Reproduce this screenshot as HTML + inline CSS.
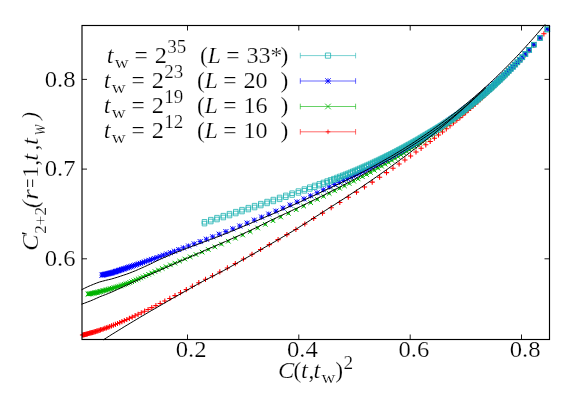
<!DOCTYPE html>
<html><head><meta charset="utf-8"><title>chart</title>
<style>
html,body{margin:0;padding:0;background:#fff;}
body{width:581px;height:407px;overflow:hidden;position:relative;font-family:"Liberation Serif",serif;}
</style></head><body>
<svg width="581" height="407" viewBox="0 0 581 407" style="position:absolute;left:0;top:0;display:block">
<rect x="0" y="0" width="581" height="407" fill="#ffffff"/>
<path d="M79.9,335.0h5.2M82.5,332.4v5.2M80.8,334.8h5.2M83.4,332.2v5.2M81.8,334.6h5.2M84.4,332.0v5.2M82.8,334.3h5.2M85.4,331.7v5.2M83.9,334.1h5.2M86.5,331.5v5.2M84.9,333.8h5.2M87.5,331.2v5.2M86.0,333.5h5.2M88.6,330.9v5.2M87.1,333.2h5.2M89.7,330.6v5.2M88.2,332.9h5.2M90.8,330.3v5.2M89.3,332.6h5.2M91.9,330.0v5.2M90.4,332.3h5.2M93.0,329.7v5.2M91.6,331.9h5.2M94.2,329.3v5.2M92.8,331.6h5.2M95.4,329.0v5.2M94.1,331.2h5.2M96.7,328.6v5.2M95.3,330.8h5.2M97.9,328.2v5.2M96.6,330.4h5.2M99.2,327.8v5.2M97.9,329.9h5.2M100.5,327.3v5.2M99.3,329.5h5.2M101.9,326.9v5.2M100.7,329.0h5.2M103.3,326.4v5.2M102.2,328.4h5.2M104.8,325.8v5.2M103.8,327.9h5.2M106.4,325.3v5.2M105.4,327.3h5.2M108.0,324.7v5.2M107.1,326.6h5.2M109.7,324.0v5.2M108.9,325.9h5.2M111.5,323.3v5.2M110.8,325.2h5.2M113.4,322.6v5.2M112.8,324.4h5.2M115.4,321.8v5.2M114.9,323.5h5.2M117.5,320.9v5.2M117.1,322.6h5.2M119.7,320.0v5.2M119.3,321.6h5.2M121.9,319.0v5.2M121.7,320.6h5.2M124.3,318.0v5.2M124.2,319.5h5.2M126.8,316.9v5.2M126.8,318.3h5.2M129.4,315.7v5.2M129.6,317.1h5.2M132.2,314.5v5.2M132.5,315.7h5.2M135.1,313.1v5.2M135.5,314.3h5.2M138.1,311.7v5.2M138.7,312.8h5.2M141.3,310.2v5.2M142.0,311.2h5.2M144.6,308.6v5.2M145.5,309.5h5.2M148.1,306.9v5.2M149.2,307.6h5.2M151.8,305.0v5.2M153.3,305.6h5.2M155.9,303.0v5.2M157.6,303.4h5.2M160.2,300.8v5.2M162.2,301.0h5.2M164.8,298.4v5.2M167.2,298.4h5.2M169.8,295.8v5.2M172.4,295.6h5.2M175.0,293.0v5.2M177.9,292.7h5.2M180.5,290.1v5.2M183.7,289.6h5.2M186.3,287.0v5.2M189.8,286.2h5.2M192.4,283.6v5.2M196.2,282.7h5.2M198.8,280.1v5.2M202.9,279.3h5.2M205.5,276.7v5.2M209.9,275.7h5.2M212.5,273.1v5.2M217.2,271.9h5.2M219.8,269.3v5.2M224.8,267.9h5.2M227.4,265.3v5.2M232.7,263.6h5.2M235.3,261.0v5.2M240.9,259.0h5.2M243.5,256.4v5.2M249.4,254.3h5.2M252.0,251.7v5.2M258.0,249.5h5.2M260.6,246.9v5.2M266.7,244.6h5.2M269.3,242.0v5.2M275.5,239.6h5.2M278.1,237.0v5.2M284.3,234.6h5.2M286.9,232.0v5.2M293.3,229.4h5.2M295.9,226.8v5.2M302.2,224.0h5.2M304.8,221.4v5.2M311.1,218.5h5.2M313.7,215.9v5.2M319.9,213.1h5.2M322.5,210.5v5.2M328.6,207.7h5.2M331.2,205.1v5.2M337.2,202.5h5.2M339.8,199.9v5.2M345.7,197.2h5.2M348.3,194.6v5.2M353.9,192.1h5.2M356.5,189.5v5.2M361.9,187.0h5.2M364.5,184.4v5.2M369.6,182.1h5.2M372.2,179.5v5.2M377.0,177.2h5.2M379.6,174.6v5.2M383.9,172.6h5.2M386.5,170.0v5.2M390.4,168.2h5.2M393.0,165.6v5.2M396.5,164.0h5.2M399.1,161.4v5.2M402.3,159.9h5.2M404.9,157.3v5.2M408.0,155.9h5.2M410.6,153.3v5.2M413.4,152.0h5.2M416.0,149.4v5.2M418.5,148.3h5.2M421.1,145.7v5.2M423.2,144.8h5.2M425.8,142.2v5.2M427.6,141.4h5.2M430.2,138.8v5.2M431.8,138.2h5.2M434.4,135.6v5.2M435.9,135.0h5.2M438.5,132.4v5.2M439.9,131.9h5.2M442.5,129.3v5.2M443.7,128.8h5.2M446.3,126.2v5.2M447.4,125.8h5.2M450.0,123.2v5.2M450.9,122.9h5.2M453.5,120.3v5.2M454.2,120.2h5.2M456.8,117.6v5.2M457.3,117.6h5.2M459.9,115.0v5.2M460.2,115.1h5.2M462.8,112.5v5.2M463.0,112.7h5.2M465.6,110.1v5.2M465.6,110.5h5.2M468.2,107.9v5.2M468.1,108.3h5.2M470.7,105.7v5.2M470.5,106.1h5.2M473.1,103.5v5.2M472.9,104.0h5.2M475.5,101.4v5.2M475.3,101.8h5.2M477.9,99.2v5.2M477.6,99.7h5.2M480.2,97.1v5.2M479.9,97.6h5.2M482.5,95.0v5.2M482.2,95.5h5.2M484.8,92.9v5.2M484.4,93.5h5.2M487.0,90.9v5.2M486.6,91.4h5.2M489.2,88.8v5.2M488.7,89.4h5.2M491.3,86.8v5.2M490.8,87.4h5.2M493.4,84.8v5.2M492.9,85.4h5.2M495.5,82.8v5.2M494.9,83.4h5.2M497.5,80.8v5.2M497.0,81.4h5.2M499.6,78.8v5.2M499.0,79.4h5.2M501.6,76.8v5.2M501.1,77.4h5.2M503.7,74.8v5.2M503.2,75.2h5.2M505.8,72.6v5.2M505.4,73.0h5.2M508.0,70.4v5.2M507.6,70.7h5.2M510.2,68.1v5.2M509.9,68.4h5.2M512.5,65.8v5.2M512.2,66.0h5.2M514.8,63.4v5.2M514.6,63.5h5.2M517.2,60.9v5.2M517.1,60.9h5.2M519.7,58.3v5.2M519.6,58.2h5.2M522.2,55.6v5.2M522.7,54.9h5.2M525.3,52.3v5.2M526.5,50.7h5.2M529.1,48.1v5.2M531.2,45.4h5.2M533.8,42.8v5.2M537.3,38.4h5.2M539.9,35.8v5.2M541.3,33.8h5.2M543.9,31.2v5.2" fill="none" stroke="#ff0000" stroke-width="1.05"/>
<path d="M85.7,291.8l4.6,4.6M85.7,296.4l4.6,-4.6M86.5,291.7l4.6,4.6M86.5,296.3l4.6,-4.6M87.3,291.5l4.6,4.6M87.3,296.1l4.6,-4.6M88.1,291.4l4.6,4.6M88.1,296.0l4.6,-4.6M88.9,291.3l4.6,4.6M88.9,295.9l4.6,-4.6M89.8,291.1l4.6,4.6M89.8,295.7l4.6,-4.6M90.6,290.9l4.6,4.6M90.6,295.5l4.6,-4.6M91.5,290.8l4.6,4.6M91.5,295.4l4.6,-4.6M92.4,290.6l4.6,4.6M92.4,295.2l4.6,-4.6M93.3,290.4l4.6,4.6M93.3,295.0l4.6,-4.6M94.3,290.2l4.6,4.6M94.3,294.8l4.6,-4.6M95.2,290.0l4.6,4.6M95.2,294.6l4.6,-4.6M96.2,289.7l4.6,4.6M96.2,294.3l4.6,-4.6M97.2,289.5l4.6,4.6M97.2,294.1l4.6,-4.6M98.2,289.2l4.6,4.6M98.2,293.8l4.6,-4.6M99.3,288.9l4.6,4.6M99.3,293.5l4.6,-4.6M100.4,288.6l4.6,4.6M100.4,293.2l4.6,-4.6M101.5,288.3l4.6,4.6M101.5,292.9l4.6,-4.6M102.6,288.0l4.6,4.6M102.6,292.6l4.6,-4.6M103.8,287.7l4.6,4.6M103.8,292.3l4.6,-4.6M104.9,287.4l4.6,4.6M104.9,292.0l4.6,-4.6M106.2,287.1l4.6,4.6M106.2,291.7l4.6,-4.6M107.4,286.7l4.6,4.6M107.4,291.3l4.6,-4.6M108.7,286.4l4.6,4.6M108.7,291.0l4.6,-4.6M110.0,286.0l4.6,4.6M110.0,290.6l4.6,-4.6M111.4,285.6l4.6,4.6M111.4,290.2l4.6,-4.6M112.8,285.2l4.6,4.6M112.8,289.8l4.6,-4.6M114.2,284.7l4.6,4.6M114.2,289.3l4.6,-4.6M115.6,284.3l4.6,4.6M115.6,288.9l4.6,-4.6M117.1,283.8l4.6,4.6M117.1,288.4l4.6,-4.6M118.7,283.3l4.6,4.6M118.7,287.9l4.6,-4.6M120.3,282.7l4.6,4.6M120.3,287.3l4.6,-4.6M122.0,282.1l4.6,4.6M122.0,286.7l4.6,-4.6M123.7,281.5l4.6,4.6M123.7,286.1l4.6,-4.6M125.6,280.9l4.6,4.6M125.6,285.5l4.6,-4.6M127.5,280.2l4.6,4.6M127.5,284.8l4.6,-4.6M129.4,279.4l4.6,4.6M129.4,284.0l4.6,-4.6M131.5,278.5l4.6,4.6M131.5,283.1l4.6,-4.6M133.7,277.6l4.6,4.6M133.7,282.2l4.6,-4.6M135.9,276.6l4.6,4.6M135.9,281.2l4.6,-4.6M138.3,275.6l4.6,4.6M138.3,280.2l4.6,-4.6M140.8,274.5l4.6,4.6M140.8,279.1l4.6,-4.6M143.5,273.3l4.6,4.6M143.5,277.9l4.6,-4.6M146.3,272.0l4.6,4.6M146.3,276.6l4.6,-4.6M149.4,270.7l4.6,4.6M149.4,275.3l4.6,-4.6M152.6,269.2l4.6,4.6M152.6,273.8l4.6,-4.6M156.1,267.7l4.6,4.6M156.1,272.3l4.6,-4.6M159.9,266.1l4.6,4.6M159.9,270.7l4.6,-4.6M163.8,264.4l4.6,4.6M163.8,269.0l4.6,-4.6M168.1,262.6l4.6,4.6M168.1,267.2l4.6,-4.6M172.6,260.8l4.6,4.6M172.6,265.4l4.6,-4.6M177.4,258.8l4.6,4.6M177.4,263.4l4.6,-4.6M182.5,256.7l4.6,4.6M182.5,261.3l4.6,-4.6M187.9,254.5l4.6,4.6M187.9,259.1l4.6,-4.6M193.7,252.2l4.6,4.6M193.7,256.8l4.6,-4.6M199.8,249.8l4.6,4.6M199.8,254.4l4.6,-4.6M206.0,247.2l4.6,4.6M206.0,251.8l4.6,-4.6M212.5,244.6l4.6,4.6M212.5,249.2l4.6,-4.6M219.1,241.8l4.6,4.6M219.1,246.4l4.6,-4.6M226.0,238.9l4.6,4.6M226.0,243.5l4.6,-4.6M233.1,235.9l4.6,4.6M233.1,240.5l4.6,-4.6M240.4,232.7l4.6,4.6M240.4,237.3l4.6,-4.6M247.9,229.3l4.6,4.6M247.9,233.9l4.6,-4.6M255.4,225.7l4.6,4.6M255.4,230.3l4.6,-4.6M263.0,222.1l4.6,4.6M263.0,226.7l4.6,-4.6M270.7,218.4l4.6,4.6M270.7,223.0l4.6,-4.6M278.4,214.7l4.6,4.6M278.4,219.3l4.6,-4.6M286.1,211.1l4.6,4.6M286.1,215.7l4.6,-4.6M293.9,207.4l4.6,4.6M293.9,212.0l4.6,-4.6M301.4,203.8l4.6,4.6M301.4,208.4l4.6,-4.6M308.4,200.3l4.6,4.6M308.4,204.9l4.6,-4.6M315.0,197.1l4.6,4.6M315.0,201.7l4.6,-4.6M321.2,194.0l4.6,4.6M321.2,198.6l4.6,-4.6M326.9,191.1l4.6,4.6M326.9,195.7l4.6,-4.6M332.3,188.5l4.6,4.6M332.3,193.1l4.6,-4.6M337.3,186.0l4.6,4.6M337.3,190.6l4.6,-4.6M342.2,183.6l4.6,4.6M342.2,188.2l4.6,-4.6M346.9,181.2l4.6,4.6M346.9,185.8l4.6,-4.6M351.4,178.9l4.6,4.6M351.4,183.5l4.6,-4.6M355.8,176.6l4.6,4.6M355.8,181.2l4.6,-4.6M360.1,174.4l4.6,4.6M360.1,179.0l4.6,-4.6M364.2,172.2l4.6,4.6M364.2,176.8l4.6,-4.6M368.2,170.1l4.6,4.6M368.2,174.7l4.6,-4.6M372.0,168.0l4.6,4.6M372.0,172.6l4.6,-4.6M375.7,165.9l4.6,4.6M375.7,170.5l4.6,-4.6M379.3,163.9l4.6,4.6M379.3,168.5l4.6,-4.6M382.8,161.9l4.6,4.6M382.8,166.5l4.6,-4.6M386.2,160.0l4.6,4.6M386.2,164.6l4.6,-4.6M389.5,158.1l4.6,4.6M389.5,162.7l4.6,-4.6M392.7,156.2l4.6,4.6M392.7,160.8l4.6,-4.6M395.7,154.4l4.6,4.6M395.7,159.0l4.6,-4.6M398.7,152.6l4.6,4.6M398.7,157.2l4.6,-4.6M401.6,150.9l4.6,4.6M401.6,155.5l4.6,-4.6M404.4,149.1l4.6,4.6M404.4,153.7l4.6,-4.6M407.2,147.4l4.6,4.6M407.2,152.0l4.6,-4.6M409.8,145.7l4.6,4.6M409.8,150.3l4.6,-4.6M412.4,144.1l4.6,4.6M412.4,148.7l4.6,-4.6M415.0,142.4l4.6,4.6M415.0,147.0l4.6,-4.6M417.5,140.8l4.6,4.6M417.5,145.4l4.6,-4.6M419.9,139.2l4.6,4.6M419.9,143.8l4.6,-4.6M422.2,137.7l4.6,4.6M422.2,142.3l4.6,-4.6M424.5,136.1l4.6,4.6M424.5,140.7l4.6,-4.6M426.7,134.6l4.6,4.6M426.7,139.2l4.6,-4.6M428.9,133.1l4.6,4.6M428.9,137.7l4.6,-4.6M431.1,131.6l4.6,4.6M431.1,136.2l4.6,-4.6M433.2,130.1l4.6,4.6M433.2,134.7l4.6,-4.6M435.3,128.7l4.6,4.6M435.3,133.3l4.6,-4.6M437.4,127.2l4.6,4.6M437.4,131.8l4.6,-4.6M439.4,125.7l4.6,4.6M439.4,130.3l4.6,-4.6M441.4,124.2l4.6,4.6M441.4,128.8l4.6,-4.6M443.4,122.8l4.6,4.6M443.4,127.4l4.6,-4.6M445.4,121.3l4.6,4.6M445.4,125.9l4.6,-4.6M447.3,119.9l4.6,4.6M447.3,124.5l4.6,-4.6M449.2,118.4l4.6,4.6M449.2,123.0l4.6,-4.6M451.1,117.0l4.6,4.6M451.1,121.6l4.6,-4.6M453.0,115.6l4.6,4.6M453.0,120.2l4.6,-4.6M454.8,114.1l4.6,4.6M454.8,118.7l4.6,-4.6M456.6,112.7l4.6,4.6M456.6,117.3l4.6,-4.6M458.4,111.3l4.6,4.6M458.4,115.9l4.6,-4.6M460.2,109.9l4.6,4.6M460.2,114.5l4.6,-4.6M462.0,108.5l4.6,4.6M462.0,113.1l4.6,-4.6M463.7,107.1l4.6,4.6M463.7,111.7l4.6,-4.6M465.5,105.6l4.6,4.6M465.5,110.2l4.6,-4.6M467.2,104.2l4.6,4.6M467.2,108.8l4.6,-4.6M468.9,102.8l4.6,4.6M468.9,107.4l4.6,-4.6M470.6,101.4l4.6,4.6M470.6,106.0l4.6,-4.6M472.3,100.0l4.6,4.6M472.3,104.6l4.6,-4.6M474.0,98.5l4.6,4.6M474.0,103.1l4.6,-4.6M475.7,97.1l4.6,4.6M475.7,101.7l4.6,-4.6M477.3,95.7l4.6,4.6M477.3,100.3l4.6,-4.6M479.0,94.2l4.6,4.6M479.0,98.8l4.6,-4.6M480.6,92.8l4.6,4.6M480.6,97.4l4.6,-4.6M482.2,91.4l4.6,4.6M482.2,96.0l4.6,-4.6M483.8,90.0l4.6,4.6M483.8,94.6l4.6,-4.6M485.4,88.5l4.6,4.6M485.4,93.1l4.6,-4.6M487.0,87.1l4.6,4.6M487.0,91.7l4.6,-4.6M488.6,85.7l4.6,4.6M488.6,90.3l4.6,-4.6M490.1,84.2l4.6,4.6M490.1,88.8l4.6,-4.6M491.7,82.8l4.6,4.6M491.7,87.4l4.6,-4.6M493.2,81.4l4.6,4.6M493.2,86.0l4.6,-4.6M494.7,79.9l4.6,4.6M494.7,84.5l4.6,-4.6M496.2,78.5l4.6,4.6M496.2,83.1l4.6,-4.6M497.7,77.1l4.6,4.6M497.7,81.7l4.6,-4.6M499.3,75.6l4.6,4.6M499.3,80.2l4.6,-4.6M501.0,74.0l4.6,4.6M501.0,78.6l4.6,-4.6M502.7,72.3l4.6,4.6M502.7,76.9l4.6,-4.6M504.5,70.5l4.6,4.6M504.5,75.1l4.6,-4.6M506.4,68.6l4.6,4.6M506.4,73.2l4.6,-4.6M508.4,66.6l4.6,4.6M508.4,71.2l4.6,-4.6M510.5,64.5l4.6,4.6M510.5,69.1l4.6,-4.6M512.6,62.3l4.6,4.6M512.6,66.9l4.6,-4.6M514.9,59.9l4.6,4.6M514.9,64.5l4.6,-4.6M517.3,57.4l4.6,4.6M517.3,62.0l4.6,-4.6M519.9,54.7l4.6,4.6M519.9,59.3l4.6,-4.6M522.9,51.4l4.6,4.6M522.9,56.0l4.6,-4.6M526.7,47.2l4.6,4.6M526.7,51.8l4.6,-4.6M531.5,41.9l4.6,4.6M531.5,46.5l4.6,-4.6M537.6,35.0l4.6,4.6M537.6,39.6l4.6,-4.6M545.0,26.2l4.6,4.6M545.0,30.8l4.6,-4.6M86.7,294.1h2.6M88.0,292.8v2.6M87.5,294.0h2.6M88.8,292.7v2.6M88.3,293.8h2.6M89.6,292.5v2.6M89.1,293.7h2.6M90.4,292.4v2.6M89.9,293.6h2.6M91.2,292.3v2.6M90.8,293.4h2.6M92.1,292.1v2.6M91.6,293.2h2.6M92.9,291.9v2.6M92.5,293.1h2.6M93.8,291.8v2.6M93.4,292.9h2.6M94.7,291.6v2.6M94.3,292.7h2.6M95.6,291.4v2.6M95.3,292.5h2.6M96.6,291.2v2.6M96.2,292.3h2.6M97.5,291.0v2.6M97.2,292.0h2.6M98.5,290.7v2.6M98.2,291.8h2.6M99.5,290.5v2.6M99.2,291.5h2.6M100.5,290.2v2.6M100.3,291.2h2.6M101.6,289.9v2.6M101.4,290.9h2.6M102.7,289.6v2.6M102.5,290.6h2.6M103.8,289.3v2.6M103.6,290.3h2.6M104.9,289.0v2.6M104.8,290.0h2.6M106.1,288.7v2.6M105.9,289.7h2.6M107.2,288.4v2.6M107.2,289.4h2.6M108.5,288.1v2.6M108.4,289.0h2.6M109.7,287.7v2.6M109.7,288.7h2.6M111.0,287.4v2.6M111.0,288.3h2.6M112.3,287.0v2.6M112.4,287.9h2.6M113.7,286.6v2.6M113.8,287.5h2.6M115.1,286.2v2.6M115.2,287.0h2.6M116.5,285.7v2.6M116.6,286.6h2.6M117.9,285.3v2.6M118.1,286.1h2.6M119.4,284.8v2.6M119.7,285.6h2.6M121.0,284.3v2.6M121.3,285.0h2.6M122.6,283.7v2.6M123.0,284.4h2.6M124.3,283.1v2.6M124.7,283.8h2.6M126.0,282.5v2.6M126.6,283.2h2.6M127.9,281.9v2.6M128.5,282.5h2.6M129.8,281.2v2.6M130.4,281.7h2.6M131.7,280.4v2.6M132.5,280.8h2.6M133.8,279.5v2.6M134.7,279.9h2.6M136.0,278.6v2.6M136.9,278.9h2.6M138.2,277.6v2.6M139.3,277.9h2.6M140.6,276.6v2.6M141.8,276.8h2.6M143.1,275.5v2.6M144.5,275.6h2.6M145.8,274.3v2.6M147.3,274.3h2.6M148.6,273.0v2.6M150.4,273.0h2.6M151.7,271.7v2.6M153.6,271.5h2.6M154.9,270.2v2.6M157.1,270.0h2.6M158.4,268.7v2.6M160.9,268.4h2.6M162.2,267.1v2.6M164.8,266.7h2.6M166.1,265.4v2.6M169.1,264.9h2.6M170.4,263.6v2.6M173.6,263.1h2.6M174.9,261.8v2.6M178.4,261.1h2.6M179.7,259.8v2.6M183.5,259.0h2.6M184.8,257.7v2.6M188.9,256.8h2.6M190.2,255.5v2.6M194.7,254.5h2.6M196.0,253.2v2.6M200.8,252.1h2.6M202.1,250.8v2.6M207.0,249.5h2.6M208.3,248.2v2.6M213.5,246.9h2.6M214.8,245.6v2.6M220.1,244.1h2.6M221.4,242.8v2.6M227.0,241.2h2.6M228.3,239.9v2.6M234.1,238.2h2.6M235.4,236.9v2.6M241.4,235.0h2.6M242.7,233.7v2.6M248.9,231.6h2.6M250.2,230.3v2.6M256.4,228.0h2.6M257.7,226.7v2.6M264.0,224.4h2.6M265.3,223.1v2.6M271.7,220.7h2.6M273.0,219.4v2.6M279.4,217.0h2.6M280.7,215.7v2.6M287.1,213.4h2.6M288.4,212.1v2.6M294.9,209.7h2.6M296.2,208.4v2.6M302.4,206.1h2.6M303.7,204.8v2.6M309.4,202.6h2.6M310.7,201.3v2.6M316.0,199.4h2.6M317.3,198.1v2.6M322.2,196.3h2.6M323.5,195.0v2.6M327.9,193.4h2.6M329.2,192.1v2.6M333.3,190.8h2.6M334.6,189.5v2.6M338.3,188.3h2.6M339.6,187.0v2.6M343.2,185.9h2.6M344.5,184.6v2.6M347.9,183.5h2.6M349.2,182.2v2.6M352.4,181.2h2.6M353.7,179.9v2.6M356.8,178.9h2.6M358.1,177.6v2.6M361.1,176.7h2.6M362.4,175.4v2.6M365.2,174.5h2.6M366.5,173.2v2.6M369.2,172.4h2.6M370.5,171.1v2.6M373.0,170.3h2.6M374.3,169.0v2.6M376.7,168.2h2.6M378.0,166.9v2.6M380.3,166.2h2.6M381.6,164.9v2.6M383.8,164.2h2.6M385.1,162.9v2.6M387.2,162.3h2.6M388.5,161.0v2.6M390.5,160.4h2.6M391.8,159.1v2.6M393.7,158.5h2.6M395.0,157.2v2.6M396.7,156.7h2.6M398.0,155.4v2.6M399.7,154.9h2.6M401.0,153.6v2.6M402.6,153.2h2.6M403.9,151.9v2.6M405.4,151.4h2.6M406.7,150.1v2.6M408.2,149.7h2.6M409.5,148.4v2.6M410.8,148.0h2.6M412.1,146.7v2.6M413.4,146.4h2.6M414.7,145.1v2.6M416.0,144.7h2.6M417.3,143.4v2.6M418.5,143.1h2.6M419.8,141.8v2.6M420.9,141.5h2.6M422.2,140.2v2.6M423.2,140.0h2.6M424.5,138.7v2.6M425.5,138.4h2.6M426.8,137.1v2.6M427.7,136.9h2.6M429.0,135.6v2.6M429.9,135.4h2.6M431.2,134.1v2.6M432.1,133.9h2.6M433.4,132.6v2.6M434.2,132.4h2.6M435.5,131.1v2.6M436.3,131.0h2.6M437.6,129.7v2.6M438.4,129.5h2.6M439.7,128.2v2.6M440.4,128.0h2.6M441.7,126.7v2.6M442.4,126.5h2.6M443.7,125.2v2.6M444.4,125.1h2.6M445.7,123.8v2.6M446.4,123.6h2.6M447.7,122.3v2.6M448.3,122.2h2.6M449.6,120.9v2.6M450.2,120.7h2.6M451.5,119.4v2.6M452.1,119.3h2.6M453.4,118.0v2.6M454.0,117.9h2.6M455.3,116.6v2.6M455.8,116.4h2.6M457.1,115.1v2.6M457.6,115.0h2.6M458.9,113.7v2.6M459.4,113.6h2.6M460.7,112.3v2.6M461.2,112.2h2.6M462.5,110.9v2.6M463.0,110.8h2.6M464.3,109.5v2.6M464.7,109.4h2.6M466.0,108.1v2.6M466.5,107.9h2.6M467.8,106.6v2.6M468.2,106.5h2.6M469.5,105.2v2.6M469.9,105.1h2.6M471.2,103.8v2.6M471.6,103.7h2.6M472.9,102.4v2.6M473.3,102.3h2.6M474.6,101.0v2.6M475.0,100.8h2.6M476.3,99.5v2.6M476.7,99.4h2.6M478.0,98.1v2.6M478.3,98.0h2.6M479.6,96.7v2.6M480.0,96.5h2.6M481.3,95.2v2.6M481.6,95.1h2.6M482.9,93.8v2.6M483.2,93.7h2.6M484.5,92.4v2.6M484.8,92.3h2.6M486.1,91.0v2.6M486.4,90.8h2.6M487.7,89.5v2.6M488.0,89.4h2.6M489.3,88.1v2.6M489.6,88.0h2.6M490.9,86.7v2.6M491.1,86.5h2.6M492.4,85.2v2.6M492.7,85.1h2.6M494.0,83.8v2.6M494.2,83.7h2.6M495.5,82.4v2.6M495.7,82.2h2.6M497.0,80.9v2.6M497.2,80.8h2.6M498.5,79.5v2.6M498.7,79.4h2.6M500.0,78.1v2.6M500.3,77.9h2.6M501.6,76.6v2.6M502.0,76.3h2.6M503.3,75.0v2.6M503.7,74.6h2.6M505.0,73.3v2.6M505.5,72.8h2.6M506.8,71.5v2.6M507.4,70.9h2.6M508.7,69.6v2.6M509.4,68.9h2.6M510.7,67.6v2.6M511.5,66.8h2.6M512.8,65.5v2.6M513.6,64.6h2.6M514.9,63.3v2.6M515.9,62.2h2.6M517.2,60.9v2.6M518.3,59.7h2.6M519.6,58.4v2.6M520.9,57.0h2.6M522.2,55.7v2.6M523.9,53.7h2.6M525.2,52.4v2.6M527.7,49.5h2.6M529.0,48.2v2.6M532.5,44.2h2.6M533.8,42.9v2.6M538.6,37.3h2.6M539.9,36.0v2.6M546.0,28.5h2.6M547.3,27.2v2.6" fill="none" stroke="#00b400" stroke-width="1.0"/>
<path d="M99.5,275.1h5.0M102.0,272.6v5.0M100.3,274.9h5.0M102.8,272.4v5.0M101.0,274.7h5.0M103.5,272.2v5.0M101.8,274.5h5.0M104.3,272.0v5.0M102.6,274.3h5.0M105.1,271.8v5.0M103.4,274.2h5.0M105.9,271.7v5.0M104.2,274.0h5.0M106.7,271.5v5.0M105.1,273.8h5.0M107.6,271.3v5.0M105.9,273.6h5.0M108.4,271.1v5.0M106.7,273.4h5.0M109.2,270.9v5.0M107.6,273.2h5.0M110.1,270.7v5.0M108.5,273.0h5.0M111.0,270.5v5.0M109.4,272.8h5.0M111.9,270.3v5.0M110.3,272.5h5.0M112.8,270.0v5.0M111.2,272.2h5.0M113.7,269.7v5.0M112.1,271.9h5.0M114.6,269.4v5.0M113.1,271.6h5.0M115.6,269.1v5.0M114.0,271.3h5.0M116.5,268.8v5.0M115.0,271.0h5.0M117.5,268.5v5.0M116.0,270.6h5.0M118.5,268.1v5.0M117.0,270.3h5.0M119.5,267.8v5.0M118.0,270.0h5.0M120.5,267.5v5.0M119.1,269.6h5.0M121.6,267.1v5.0M120.2,269.2h5.0M122.7,266.7v5.0M121.4,268.9h5.0M123.9,266.4v5.0M122.6,268.5h5.0M125.1,266.0v5.0M123.9,268.0h5.0M126.4,265.5v5.0M125.2,267.6h5.0M127.7,265.1v5.0M126.6,267.1h5.0M129.1,264.6v5.0M128.0,266.7h5.0M130.5,264.2v5.0M129.5,266.2h5.0M132.0,263.7v5.0M131.0,265.6h5.0M133.5,263.1v5.0M132.7,265.1h5.0M135.2,262.6v5.0M134.3,264.5h5.0M136.8,262.0v5.0M136.1,263.9h5.0M138.6,261.4v5.0M137.9,263.3h5.0M140.4,260.8v5.0M139.9,262.6h5.0M142.4,260.1v5.0M142.0,261.9h5.0M144.5,259.4v5.0M144.2,261.1h5.0M146.7,258.6v5.0M146.6,260.3h5.0M149.1,257.8v5.0M149.1,259.4h5.0M151.6,256.9v5.0M151.8,258.5h5.0M154.3,256.0v5.0M154.6,257.5h5.0M157.1,255.0v5.0M157.7,256.4h5.0M160.2,253.9v5.0M160.9,255.2h5.0M163.4,252.7v5.0M164.3,254.0h5.0M166.8,251.5v5.0M168.0,252.7h5.0M170.5,250.2v5.0M172.0,251.2h5.0M174.5,248.7v5.0M176.3,249.6h5.0M178.8,247.1v5.0M181.0,247.9h5.0M183.5,245.4v5.0M186.1,246.0h5.0M188.6,243.5v5.0M191.7,243.9h5.0M194.2,241.4v5.0M197.7,241.6h5.0M200.2,239.1v5.0M203.9,239.2h5.0M206.4,236.7v5.0M210.2,236.8h5.0M212.7,234.3v5.0M216.7,234.2h5.0M219.2,231.7v5.0M223.4,231.6h5.0M225.9,229.1v5.0M230.3,228.8h5.0M232.8,226.3v5.0M237.3,226.0h5.0M239.8,223.5v5.0M244.6,223.1h5.0M247.1,220.6v5.0M251.8,220.1h5.0M254.3,217.6v5.0M259.1,217.1h5.0M261.6,214.6v5.0M266.3,214.1h5.0M268.8,211.6v5.0M273.4,211.1h5.0M275.9,208.6v5.0M280.5,208.1h5.0M283.0,205.6v5.0M287.6,205.0h5.0M290.1,202.5v5.0M294.6,202.0h5.0M297.1,199.5v5.0M301.5,198.9h5.0M304.0,196.4v5.0M308.1,195.8h5.0M310.6,193.3v5.0M314.6,192.8h5.0M317.1,190.3v5.0M320.8,189.8h5.0M323.3,187.3v5.0M326.8,186.9h5.0M329.3,184.4v5.0M332.2,184.5h5.0M334.7,182.0v5.0M336.9,182.3h5.0M339.4,179.8v5.0M341.1,180.4h5.0M343.6,177.9v5.0M344.9,178.6h5.0M347.4,176.1v5.0M348.5,177.0h5.0M351.0,174.5v5.0M351.9,175.4h5.0M354.4,172.9v5.0M355.0,173.9h5.0M357.5,171.4v5.0M358.0,172.4h5.0M360.5,169.9v5.0M360.9,171.0h5.0M363.4,168.5v5.0M363.8,169.6h5.0M366.3,167.1v5.0M366.5,168.2h5.0M369.0,165.7v5.0M369.2,166.9h5.0M371.7,164.4v5.0M371.9,165.5h5.0M374.4,163.0v5.0M374.5,164.2h5.0M377.0,161.7v5.0M377.0,162.9h5.0M379.5,160.4v5.0M379.4,161.6h5.0M381.9,159.1v5.0M381.8,160.4h5.0M384.3,157.9v5.0M384.1,159.2h5.0M386.6,156.7v5.0M386.4,157.9h5.0M388.9,155.4v5.0M388.6,156.7h5.0M391.1,154.2v5.0M390.8,155.6h5.0M393.3,153.1v5.0M392.9,154.4h5.0M395.4,151.9v5.0M395.0,153.2h5.0M397.5,150.7v5.0M397.0,152.1h5.0M399.5,149.6v5.0M399.0,151.0h5.0M401.5,148.5v5.0M400.9,149.9h5.0M403.4,147.4v5.0M402.9,148.8h5.0M405.4,146.3v5.0M404.8,147.6h5.0M407.3,145.1v5.0M406.7,146.5h5.0M409.2,144.0v5.0M408.6,145.4h5.0M411.1,142.9v5.0M410.5,144.3h5.0M413.0,141.8v5.0M412.3,143.2h5.0M414.8,140.7v5.0M414.2,142.1h5.0M416.7,139.6v5.0M416.0,141.0h5.0M418.5,138.5v5.0M417.8,139.8h5.0M420.3,137.3v5.0M419.6,138.7h5.0M422.1,136.2v5.0M421.3,137.6h5.0M423.8,135.1v5.0M423.1,136.5h5.0M425.6,134.0v5.0M424.8,135.4h5.0M427.3,132.9v5.0M426.5,134.3h5.0M429.0,131.8v5.0M428.2,133.2h5.0M430.7,130.7v5.0M429.9,132.1h5.0M432.4,129.6v5.0M431.5,131.0h5.0M434.0,128.5v5.0M433.2,129.9h5.0M435.7,127.4v5.0M434.8,128.8h5.0M437.3,126.3v5.0M436.4,127.8h5.0M438.9,125.3v5.0M438.0,126.7h5.0M440.5,124.2v5.0M439.6,125.6h5.0M442.1,123.1v5.0M441.2,124.5h5.0M443.7,122.0v5.0M442.7,123.4h5.0M445.2,120.9v5.0M444.2,122.3h5.0M446.7,119.8v5.0M445.8,121.3h5.0M448.3,118.8v5.0M447.3,120.2h5.0M449.8,117.7v5.0M448.8,119.1h5.0M451.3,116.6v5.0M450.3,118.0h5.0M452.8,115.5v5.0M451.7,116.9h5.0M454.2,114.4v5.0M453.2,115.8h5.0M455.7,113.3v5.0M454.7,114.7h5.0M457.2,112.2v5.0M456.2,113.6h5.0M458.7,111.1v5.0M457.7,112.5h5.0M460.2,110.0v5.0M459.2,111.4h5.0M461.7,108.9v5.0M460.6,110.3h5.0M463.1,107.8v5.0M462.1,109.1h5.0M464.6,106.6v5.0M463.6,108.0h5.0M466.1,105.5v5.0M465.0,106.8h5.0M467.5,104.3v5.0M466.5,105.7h5.0M469.0,103.2v5.0M468.0,104.5h5.0M470.5,102.0v5.0M469.4,103.4h5.0M471.9,100.9v5.0M470.9,102.2h5.0M473.4,99.7v5.0M472.3,101.0h5.0M474.8,98.5v5.0M473.8,99.8h5.0M476.3,97.3v5.0M475.2,98.6h5.0M477.7,96.1v5.0M476.7,97.4h5.0M479.2,94.9v5.0M478.1,96.2h5.0M480.6,93.7v5.0M479.5,95.0h5.0M482.0,92.5v5.0M481.0,93.8h5.0M483.5,91.3v5.0M482.4,92.6h5.0M484.9,90.1v5.0M483.8,91.3h5.0M486.3,88.8v5.0M485.3,90.1h5.0M487.8,87.6v5.0M486.7,88.8h5.0M489.2,86.3v5.0M488.1,87.6h5.0M490.6,85.1v5.0M489.5,86.3h5.0M492.0,83.8v5.0M490.9,85.1h5.0M493.4,82.6v5.0M492.3,83.8h5.0M494.8,81.3v5.0M493.8,82.5h5.0M496.3,80.0v5.0M495.2,81.2h5.0M497.7,78.7v5.0M496.6,79.9h5.0M499.1,77.4v5.0M498.0,78.6h5.0M500.5,76.1v5.0M499.5,77.2h5.0M502.0,74.7v5.0M501.1,75.7h5.0M503.6,73.2v5.0M502.7,74.1h5.0M505.2,71.6v5.0M504.5,72.4h5.0M507.0,69.9v5.0M506.3,70.6h5.0M508.8,68.1v5.0M508.3,68.7h5.0M510.8,66.2v5.0M510.3,66.7h5.0M512.8,64.2v5.0M512.5,64.6h5.0M515.0,62.1v5.0M514.7,62.3h5.0M517.2,59.8v5.0M517.1,59.8h5.0M519.6,57.3v5.0M519.7,57.2h5.0M522.2,54.7v5.0M522.7,54.0h5.0M525.2,51.5v5.0M526.5,49.9h5.0M529.0,47.4v5.0M531.3,44.7h5.0M533.8,42.2v5.0M537.4,37.8h5.0M539.9,35.3v5.0M544.8,29.2h5.0M547.3,26.7v5.0M99.5,272.6l5.0,5.0M99.5,277.6l5.0,-5.0M100.3,272.4l5.0,5.0M100.3,277.4l5.0,-5.0M101.0,272.2l5.0,5.0M101.0,277.2l5.0,-5.0M101.8,272.0l5.0,5.0M101.8,277.0l5.0,-5.0M102.6,271.8l5.0,5.0M102.6,276.8l5.0,-5.0M103.4,271.7l5.0,5.0M103.4,276.7l5.0,-5.0M104.2,271.5l5.0,5.0M104.2,276.5l5.0,-5.0M105.1,271.3l5.0,5.0M105.1,276.3l5.0,-5.0M105.9,271.1l5.0,5.0M105.9,276.1l5.0,-5.0M106.7,270.9l5.0,5.0M106.7,275.9l5.0,-5.0M107.6,270.7l5.0,5.0M107.6,275.7l5.0,-5.0M108.5,270.5l5.0,5.0M108.5,275.5l5.0,-5.0M109.4,270.3l5.0,5.0M109.4,275.3l5.0,-5.0M110.3,270.0l5.0,5.0M110.3,275.0l5.0,-5.0M111.2,269.7l5.0,5.0M111.2,274.7l5.0,-5.0M112.1,269.4l5.0,5.0M112.1,274.4l5.0,-5.0M113.1,269.1l5.0,5.0M113.1,274.1l5.0,-5.0M114.0,268.8l5.0,5.0M114.0,273.8l5.0,-5.0M115.0,268.5l5.0,5.0M115.0,273.5l5.0,-5.0M116.0,268.1l5.0,5.0M116.0,273.1l5.0,-5.0M117.0,267.8l5.0,5.0M117.0,272.8l5.0,-5.0M118.0,267.5l5.0,5.0M118.0,272.5l5.0,-5.0M119.1,267.1l5.0,5.0M119.1,272.1l5.0,-5.0M120.2,266.7l5.0,5.0M120.2,271.7l5.0,-5.0M121.4,266.4l5.0,5.0M121.4,271.4l5.0,-5.0M122.6,266.0l5.0,5.0M122.6,271.0l5.0,-5.0M123.9,265.5l5.0,5.0M123.9,270.5l5.0,-5.0M125.2,265.1l5.0,5.0M125.2,270.1l5.0,-5.0M126.6,264.6l5.0,5.0M126.6,269.6l5.0,-5.0M128.0,264.2l5.0,5.0M128.0,269.2l5.0,-5.0M129.5,263.7l5.0,5.0M129.5,268.7l5.0,-5.0M131.0,263.1l5.0,5.0M131.0,268.1l5.0,-5.0M132.7,262.6l5.0,5.0M132.7,267.6l5.0,-5.0M134.3,262.0l5.0,5.0M134.3,267.0l5.0,-5.0M136.1,261.4l5.0,5.0M136.1,266.4l5.0,-5.0M137.9,260.8l5.0,5.0M137.9,265.8l5.0,-5.0M139.9,260.1l5.0,5.0M139.9,265.1l5.0,-5.0M142.0,259.4l5.0,5.0M142.0,264.4l5.0,-5.0M144.2,258.6l5.0,5.0M144.2,263.6l5.0,-5.0M146.6,257.8l5.0,5.0M146.6,262.8l5.0,-5.0M149.1,256.9l5.0,5.0M149.1,261.9l5.0,-5.0M151.8,256.0l5.0,5.0M151.8,261.0l5.0,-5.0M154.6,255.0l5.0,5.0M154.6,260.0l5.0,-5.0M157.7,253.9l5.0,5.0M157.7,258.9l5.0,-5.0M160.9,252.7l5.0,5.0M160.9,257.7l5.0,-5.0M164.3,251.5l5.0,5.0M164.3,256.5l5.0,-5.0M168.0,250.2l5.0,5.0M168.0,255.2l5.0,-5.0M172.0,248.7l5.0,5.0M172.0,253.7l5.0,-5.0M176.3,247.1l5.0,5.0M176.3,252.1l5.0,-5.0M181.0,245.4l5.0,5.0M181.0,250.4l5.0,-5.0M186.1,243.5l5.0,5.0M186.1,248.5l5.0,-5.0M191.7,241.4l5.0,5.0M191.7,246.4l5.0,-5.0M197.7,239.1l5.0,5.0M197.7,244.1l5.0,-5.0M203.9,236.7l5.0,5.0M203.9,241.7l5.0,-5.0M210.2,234.3l5.0,5.0M210.2,239.3l5.0,-5.0M216.7,231.7l5.0,5.0M216.7,236.7l5.0,-5.0M223.4,229.1l5.0,5.0M223.4,234.1l5.0,-5.0M230.3,226.3l5.0,5.0M230.3,231.3l5.0,-5.0M237.3,223.5l5.0,5.0M237.3,228.5l5.0,-5.0M244.6,220.6l5.0,5.0M244.6,225.6l5.0,-5.0M251.8,217.6l5.0,5.0M251.8,222.6l5.0,-5.0M259.1,214.6l5.0,5.0M259.1,219.6l5.0,-5.0M266.3,211.6l5.0,5.0M266.3,216.6l5.0,-5.0M273.4,208.6l5.0,5.0M273.4,213.6l5.0,-5.0M280.5,205.6l5.0,5.0M280.5,210.6l5.0,-5.0M287.6,202.5l5.0,5.0M287.6,207.5l5.0,-5.0M294.6,199.5l5.0,5.0M294.6,204.5l5.0,-5.0M301.5,196.4l5.0,5.0M301.5,201.4l5.0,-5.0M308.1,193.3l5.0,5.0M308.1,198.3l5.0,-5.0M314.6,190.3l5.0,5.0M314.6,195.3l5.0,-5.0M320.8,187.3l5.0,5.0M320.8,192.3l5.0,-5.0M326.8,184.4l5.0,5.0M326.8,189.4l5.0,-5.0M332.2,182.0l5.0,5.0M332.2,187.0l5.0,-5.0M336.9,179.8l5.0,5.0M336.9,184.8l5.0,-5.0M341.1,177.9l5.0,5.0M341.1,182.9l5.0,-5.0M344.9,176.1l5.0,5.0M344.9,181.1l5.0,-5.0M348.5,174.5l5.0,5.0M348.5,179.5l5.0,-5.0M351.9,172.9l5.0,5.0M351.9,177.9l5.0,-5.0M355.0,171.4l5.0,5.0M355.0,176.4l5.0,-5.0M358.0,169.9l5.0,5.0M358.0,174.9l5.0,-5.0M360.9,168.5l5.0,5.0M360.9,173.5l5.0,-5.0M363.8,167.1l5.0,5.0M363.8,172.1l5.0,-5.0M366.5,165.7l5.0,5.0M366.5,170.7l5.0,-5.0M369.2,164.4l5.0,5.0M369.2,169.4l5.0,-5.0M371.9,163.0l5.0,5.0M371.9,168.0l5.0,-5.0M374.5,161.7l5.0,5.0M374.5,166.7l5.0,-5.0M377.0,160.4l5.0,5.0M377.0,165.4l5.0,-5.0M379.4,159.1l5.0,5.0M379.4,164.1l5.0,-5.0M381.8,157.9l5.0,5.0M381.8,162.9l5.0,-5.0M384.1,156.7l5.0,5.0M384.1,161.7l5.0,-5.0M386.4,155.4l5.0,5.0M386.4,160.4l5.0,-5.0M388.6,154.2l5.0,5.0M388.6,159.2l5.0,-5.0M390.8,153.1l5.0,5.0M390.8,158.1l5.0,-5.0M392.9,151.9l5.0,5.0M392.9,156.9l5.0,-5.0M395.0,150.7l5.0,5.0M395.0,155.7l5.0,-5.0M397.0,149.6l5.0,5.0M397.0,154.6l5.0,-5.0M399.0,148.5l5.0,5.0M399.0,153.5l5.0,-5.0M400.9,147.4l5.0,5.0M400.9,152.4l5.0,-5.0M402.9,146.3l5.0,5.0M402.9,151.3l5.0,-5.0M404.8,145.1l5.0,5.0M404.8,150.1l5.0,-5.0M406.7,144.0l5.0,5.0M406.7,149.0l5.0,-5.0M408.6,142.9l5.0,5.0M408.6,147.9l5.0,-5.0M410.5,141.8l5.0,5.0M410.5,146.8l5.0,-5.0M412.3,140.7l5.0,5.0M412.3,145.7l5.0,-5.0M414.2,139.6l5.0,5.0M414.2,144.6l5.0,-5.0M416.0,138.5l5.0,5.0M416.0,143.5l5.0,-5.0M417.8,137.3l5.0,5.0M417.8,142.3l5.0,-5.0M419.6,136.2l5.0,5.0M419.6,141.2l5.0,-5.0M421.3,135.1l5.0,5.0M421.3,140.1l5.0,-5.0M423.1,134.0l5.0,5.0M423.1,139.0l5.0,-5.0M424.8,132.9l5.0,5.0M424.8,137.9l5.0,-5.0M426.5,131.8l5.0,5.0M426.5,136.8l5.0,-5.0M428.2,130.7l5.0,5.0M428.2,135.7l5.0,-5.0M429.9,129.6l5.0,5.0M429.9,134.6l5.0,-5.0M431.5,128.5l5.0,5.0M431.5,133.5l5.0,-5.0M433.2,127.4l5.0,5.0M433.2,132.4l5.0,-5.0M434.8,126.3l5.0,5.0M434.8,131.3l5.0,-5.0M436.4,125.3l5.0,5.0M436.4,130.3l5.0,-5.0M438.0,124.2l5.0,5.0M438.0,129.2l5.0,-5.0M439.6,123.1l5.0,5.0M439.6,128.1l5.0,-5.0M441.2,122.0l5.0,5.0M441.2,127.0l5.0,-5.0M442.7,120.9l5.0,5.0M442.7,125.9l5.0,-5.0M444.2,119.8l5.0,5.0M444.2,124.8l5.0,-5.0M445.8,118.8l5.0,5.0M445.8,123.8l5.0,-5.0M447.3,117.7l5.0,5.0M447.3,122.7l5.0,-5.0M448.8,116.6l5.0,5.0M448.8,121.6l5.0,-5.0M450.3,115.5l5.0,5.0M450.3,120.5l5.0,-5.0M451.7,114.4l5.0,5.0M451.7,119.4l5.0,-5.0M453.2,113.3l5.0,5.0M453.2,118.3l5.0,-5.0M454.7,112.2l5.0,5.0M454.7,117.2l5.0,-5.0M456.2,111.1l5.0,5.0M456.2,116.1l5.0,-5.0M457.7,110.0l5.0,5.0M457.7,115.0l5.0,-5.0M459.2,108.9l5.0,5.0M459.2,113.9l5.0,-5.0M460.6,107.8l5.0,5.0M460.6,112.8l5.0,-5.0M462.1,106.6l5.0,5.0M462.1,111.6l5.0,-5.0M463.6,105.5l5.0,5.0M463.6,110.5l5.0,-5.0M465.0,104.3l5.0,5.0M465.0,109.3l5.0,-5.0M466.5,103.2l5.0,5.0M466.5,108.2l5.0,-5.0M468.0,102.0l5.0,5.0M468.0,107.0l5.0,-5.0M469.4,100.9l5.0,5.0M469.4,105.9l5.0,-5.0M470.9,99.7l5.0,5.0M470.9,104.7l5.0,-5.0M472.3,98.5l5.0,5.0M472.3,103.5l5.0,-5.0M473.8,97.3l5.0,5.0M473.8,102.3l5.0,-5.0M475.2,96.1l5.0,5.0M475.2,101.1l5.0,-5.0M476.7,94.9l5.0,5.0M476.7,99.9l5.0,-5.0M478.1,93.7l5.0,5.0M478.1,98.7l5.0,-5.0M479.5,92.5l5.0,5.0M479.5,97.5l5.0,-5.0M481.0,91.3l5.0,5.0M481.0,96.3l5.0,-5.0M482.4,90.1l5.0,5.0M482.4,95.1l5.0,-5.0M483.8,88.8l5.0,5.0M483.8,93.8l5.0,-5.0M485.3,87.6l5.0,5.0M485.3,92.6l5.0,-5.0M486.7,86.3l5.0,5.0M486.7,91.3l5.0,-5.0M488.1,85.1l5.0,5.0M488.1,90.1l5.0,-5.0M489.5,83.8l5.0,5.0M489.5,88.8l5.0,-5.0M490.9,82.6l5.0,5.0M490.9,87.6l5.0,-5.0M492.3,81.3l5.0,5.0M492.3,86.3l5.0,-5.0M493.8,80.0l5.0,5.0M493.8,85.0l5.0,-5.0M495.2,78.7l5.0,5.0M495.2,83.7l5.0,-5.0M496.6,77.4l5.0,5.0M496.6,82.4l5.0,-5.0M498.0,76.1l5.0,5.0M498.0,81.1l5.0,-5.0M499.5,74.7l5.0,5.0M499.5,79.7l5.0,-5.0M501.1,73.2l5.0,5.0M501.1,78.2l5.0,-5.0M502.7,71.6l5.0,5.0M502.7,76.6l5.0,-5.0M504.5,69.9l5.0,5.0M504.5,74.9l5.0,-5.0M506.3,68.1l5.0,5.0M506.3,73.1l5.0,-5.0M508.3,66.2l5.0,5.0M508.3,71.2l5.0,-5.0M510.3,64.2l5.0,5.0M510.3,69.2l5.0,-5.0M512.5,62.1l5.0,5.0M512.5,67.1l5.0,-5.0M514.7,59.8l5.0,5.0M514.7,64.8l5.0,-5.0M517.1,57.3l5.0,5.0M517.1,62.3l5.0,-5.0M519.7,54.7l5.0,5.0M519.7,59.7l5.0,-5.0M522.7,51.5l5.0,5.0M522.7,56.5l5.0,-5.0M526.5,47.4l5.0,5.0M526.5,52.4l5.0,-5.0M531.3,42.2l5.0,5.0M531.3,47.2l5.0,-5.0M537.4,35.3l5.0,5.0M537.4,40.3l5.0,-5.0M544.8,26.7l5.0,5.0M544.8,31.7l5.0,-5.0" fill="none" stroke="#0000ff" stroke-width="1.0"/>
<path d="M202.2,219.5h4.6v4.6h-4.6zM208.5,217.4h4.6v4.6h-4.6zM214.7,215.4h4.6v4.6h-4.6zM221.0,213.4h4.6v4.6h-4.6zM227.2,211.4h4.6v4.6h-4.6zM233.5,209.4h4.6v4.6h-4.6zM239.7,207.4h4.6v4.6h-4.6zM246.0,205.4h4.6v4.6h-4.6zM252.3,203.4h4.6v4.6h-4.6zM258.5,201.4h4.6v4.6h-4.6zM264.8,199.3h4.6v4.6h-4.6zM271.0,197.3h4.6v4.6h-4.6zM277.3,195.2h4.6v4.6h-4.6zM283.5,193.1h4.6v4.6h-4.6zM289.8,190.9h4.6v4.6h-4.6zM296.1,188.8h4.6v4.6h-4.6zM302.1,186.8h4.6v4.6h-4.6zM307.5,184.9h4.6v4.6h-4.6zM312.4,183.2h4.6v4.6h-4.6zM317.0,181.6h4.6v4.6h-4.6zM321.1,180.2h4.6v4.6h-4.6zM324.9,178.8h4.6v4.6h-4.6zM328.3,177.6h4.6v4.6h-4.6zM331.6,176.4h4.6v4.6h-4.6zM334.7,175.2h4.6v4.6h-4.6zM337.6,174.1h4.6v4.6h-4.6zM340.5,173.0h4.6v4.6h-4.6zM343.1,172.0h4.6v4.6h-4.6zM345.7,171.0h4.6v4.6h-4.6zM348.1,170.0h4.6v4.6h-4.6zM350.5,169.0h4.6v4.6h-4.6zM352.8,168.1h4.6v4.6h-4.6zM355.1,167.1h4.6v4.6h-4.6zM357.4,166.1h4.6v4.6h-4.6zM359.7,165.1h4.6v4.6h-4.6zM361.9,164.1h4.6v4.6h-4.6zM364.1,163.1h4.6v4.6h-4.6zM366.3,162.2h4.6v4.6h-4.6zM368.4,161.2h4.6v4.6h-4.6zM370.6,160.2h4.6v4.6h-4.6zM372.7,159.2h4.6v4.6h-4.6zM374.7,158.3h4.6v4.6h-4.6zM376.8,157.3h4.6v4.6h-4.6zM378.8,156.3h4.6v4.6h-4.6zM380.8,155.4h4.6v4.6h-4.6zM382.8,154.4h4.6v4.6h-4.6zM384.7,153.4h4.6v4.6h-4.6zM386.7,152.5h4.6v4.6h-4.6zM388.6,151.5h4.6v4.6h-4.6zM390.5,150.6h4.6v4.6h-4.6zM392.3,149.6h4.6v4.6h-4.6zM394.2,148.7h4.6v4.6h-4.6zM396.0,147.7h4.6v4.6h-4.6zM397.8,146.8h4.6v4.6h-4.6zM399.6,145.8h4.6v4.6h-4.6zM401.4,144.9h4.6v4.6h-4.6zM403.1,143.9h4.6v4.6h-4.6zM404.9,142.9h4.6v4.6h-4.6zM406.6,142.0h4.6v4.6h-4.6zM408.4,141.0h4.6v4.6h-4.6zM410.1,140.0h4.6v4.6h-4.6zM411.9,139.0h4.6v4.6h-4.6zM413.6,138.1h4.6v4.6h-4.6zM415.3,137.1h4.6v4.6h-4.6zM417.0,136.1h4.6v4.6h-4.6zM418.7,135.1h4.6v4.6h-4.6zM420.4,134.0h4.6v4.6h-4.6zM422.1,133.0h4.6v4.6h-4.6zM423.8,132.0h4.6v4.6h-4.6zM425.5,131.0h4.6v4.6h-4.6zM427.2,130.0h4.6v4.6h-4.6zM428.8,129.0h4.6v4.6h-4.6zM430.5,128.0h4.6v4.6h-4.6zM432.2,127.0h4.6v4.6h-4.6zM433.8,126.0h4.6v4.6h-4.6zM435.4,125.0h4.6v4.6h-4.6zM437.1,124.0h4.6v4.6h-4.6zM438.7,123.0h4.6v4.6h-4.6zM440.3,122.0h4.6v4.6h-4.6zM441.9,120.9h4.6v4.6h-4.6zM443.6,119.9h4.6v4.6h-4.6zM445.2,118.9h4.6v4.6h-4.6zM446.8,117.8h4.6v4.6h-4.6zM448.3,116.8h4.6v4.6h-4.6zM449.9,115.6h4.6v4.6h-4.6zM451.5,114.5h4.6v4.6h-4.6zM453.1,113.4h4.6v4.6h-4.6zM454.7,112.3h4.6v4.6h-4.6zM456.3,111.1h4.6v4.6h-4.6zM457.9,109.9h4.6v4.6h-4.6zM459.5,108.8h4.6v4.6h-4.6zM461.1,107.6h4.6v4.6h-4.6zM462.6,106.4h4.6v4.6h-4.6zM464.2,105.2h4.6v4.6h-4.6zM465.8,104.0h4.6v4.6h-4.6zM467.4,102.8h4.6v4.6h-4.6zM469.0,101.5h4.6v4.6h-4.6zM470.6,100.3h4.6v4.6h-4.6zM472.2,99.0h4.6v4.6h-4.6zM473.8,97.8h4.6v4.6h-4.6zM475.4,96.5h4.6v4.6h-4.6zM476.9,95.2h4.6v4.6h-4.6zM478.5,93.9h4.6v4.6h-4.6zM480.1,92.6h4.6v4.6h-4.6zM481.7,91.2h4.6v4.6h-4.6zM483.3,89.9h4.6v4.6h-4.6zM484.9,88.6h4.6v4.6h-4.6zM486.5,87.2h4.6v4.6h-4.6zM488.1,85.8h4.6v4.6h-4.6zM489.7,84.4h4.6v4.6h-4.6zM491.3,82.9h4.6v4.6h-4.6zM492.8,81.5h4.6v4.6h-4.6zM494.4,80.0h4.6v4.6h-4.6zM496.0,78.5h4.6v4.6h-4.6zM497.6,77.0h4.6v4.6h-4.6zM499.2,75.4h4.6v4.6h-4.6zM501.0,73.8h4.6v4.6h-4.6zM502.7,72.1h4.6v4.6h-4.6zM504.6,70.2h4.6v4.6h-4.6zM506.5,68.3h4.6v4.6h-4.6zM508.6,66.3h4.6v4.6h-4.6zM510.7,64.3h4.6v4.6h-4.6zM512.9,62.1h4.6v4.6h-4.6zM515.1,59.8h4.6v4.6h-4.6zM517.5,57.4h4.6v4.6h-4.6zM520.0,54.8h4.6v4.6h-4.6zM523.1,51.6h4.6v4.6h-4.6zM526.9,47.6h4.6v4.6h-4.6zM531.6,42.4h4.6v4.6h-4.6zM537.7,35.7h4.6v4.6h-4.6zM545.0,27.2h4.6v4.6h-4.6zM202.2,221.3h4.6v4.6h-4.6zM208.5,219.2h4.6v4.6h-4.6zM214.7,217.2h4.6v4.6h-4.6zM221.0,215.2h4.6v4.6h-4.6zM227.2,213.2h4.6v4.6h-4.6zM233.5,211.2h4.6v4.6h-4.6zM239.7,209.2h4.6v4.6h-4.6zM246.0,207.2h4.6v4.6h-4.6zM252.3,205.2h4.6v4.6h-4.6zM258.5,203.2h4.6v4.6h-4.6zM264.8,201.1h4.6v4.6h-4.6zM271.0,199.1h4.6v4.6h-4.6zM277.3,197.0h4.6v4.6h-4.6zM283.5,194.9h4.6v4.6h-4.6zM289.8,192.7h4.6v4.6h-4.6zM296.1,190.6h4.6v4.6h-4.6zM302.1,188.5h4.6v4.6h-4.6zM307.5,186.6h4.6v4.6h-4.6zM312.4,184.9h4.6v4.6h-4.6zM317.0,183.3h4.6v4.6h-4.6zM321.1,181.8h4.6v4.6h-4.6zM324.9,180.4h4.6v4.6h-4.6zM328.3,179.1h4.6v4.6h-4.6zM331.6,177.8h4.6v4.6h-4.6zM334.7,176.7h4.6v4.6h-4.6zM337.6,175.5h4.6v4.6h-4.6zM340.5,174.4h4.6v4.6h-4.6zM343.1,173.3h4.6v4.6h-4.6zM345.7,172.3h4.6v4.6h-4.6zM348.1,171.3h4.6v4.6h-4.6zM350.5,170.3h4.6v4.6h-4.6zM352.8,169.4h4.6v4.6h-4.6zM355.1,168.4h4.6v4.6h-4.6zM357.4,167.4h4.6v4.6h-4.6zM359.7,166.4h4.6v4.6h-4.6zM361.9,165.4h4.6v4.6h-4.6zM364.1,164.4h4.6v4.6h-4.6zM366.3,163.5h4.6v4.6h-4.6zM368.4,162.5h4.6v4.6h-4.6zM370.6,161.5h4.6v4.6h-4.6zM372.7,160.5h4.6v4.6h-4.6zM374.7,159.6h4.6v4.6h-4.6zM376.8,158.6h4.6v4.6h-4.6zM378.8,157.6h4.6v4.6h-4.6zM380.8,156.7h4.6v4.6h-4.6zM382.8,155.7h4.6v4.6h-4.6zM384.7,154.7h4.6v4.6h-4.6zM386.7,153.8h4.6v4.6h-4.6zM388.6,152.8h4.6v4.6h-4.6zM390.5,151.9h4.6v4.6h-4.6zM392.3,150.9h4.6v4.6h-4.6zM394.2,150.0h4.6v4.6h-4.6zM396.0,149.0h4.6v4.6h-4.6zM397.8,148.1h4.6v4.6h-4.6zM399.6,147.1h4.6v4.6h-4.6zM401.4,146.2h4.6v4.6h-4.6zM403.1,145.2h4.6v4.6h-4.6zM404.9,144.2h4.6v4.6h-4.6zM406.6,143.3h4.6v4.6h-4.6zM408.4,142.3h4.6v4.6h-4.6zM410.1,141.3h4.6v4.6h-4.6zM411.9,140.3h4.6v4.6h-4.6zM413.6,139.4h4.6v4.6h-4.6zM415.3,138.4h4.6v4.6h-4.6zM417.0,137.4h4.6v4.6h-4.6zM418.7,136.4h4.6v4.6h-4.6zM420.4,135.3h4.6v4.6h-4.6zM422.1,134.3h4.6v4.6h-4.6zM423.8,133.3h4.6v4.6h-4.6zM425.5,132.3h4.6v4.6h-4.6zM427.2,131.3h4.6v4.6h-4.6zM428.8,130.3h4.6v4.6h-4.6zM430.5,129.3h4.6v4.6h-4.6zM432.2,128.3h4.6v4.6h-4.6zM433.8,127.3h4.6v4.6h-4.6zM435.4,126.3h4.6v4.6h-4.6zM437.1,125.3h4.6v4.6h-4.6zM438.7,124.3h4.6v4.6h-4.6zM440.3,123.3h4.6v4.6h-4.6zM441.9,122.2h4.6v4.6h-4.6zM443.6,121.2h4.6v4.6h-4.6zM445.2,120.2h4.6v4.6h-4.6zM446.8,119.1h4.6v4.6h-4.6zM448.3,118.0h4.6v4.6h-4.6zM449.9,116.9h4.6v4.6h-4.6zM451.5,115.8h4.6v4.6h-4.6zM453.1,114.6h4.6v4.6h-4.6zM454.7,113.5h4.6v4.6h-4.6zM456.3,112.3h4.6v4.6h-4.6zM457.9,111.1h4.6v4.6h-4.6zM459.5,109.9h4.6v4.6h-4.6zM461.1,108.7h4.6v4.6h-4.6zM462.6,107.5h4.6v4.6h-4.6zM464.2,106.3h4.6v4.6h-4.6zM465.8,105.0h4.6v4.6h-4.6zM467.4,103.8h4.6v4.6h-4.6zM469.0,102.5h4.6v4.6h-4.6zM470.6,101.3h4.6v4.6h-4.6zM472.2,100.0h4.6v4.6h-4.6zM473.8,98.7h4.6v4.6h-4.6zM475.4,97.4h4.6v4.6h-4.6zM476.9,96.1h4.6v4.6h-4.6zM478.5,94.7h4.6v4.6h-4.6zM480.1,93.4h4.6v4.6h-4.6zM481.7,92.1h4.6v4.6h-4.6zM483.3,90.7h4.6v4.6h-4.6zM484.9,89.3h4.6v4.6h-4.6zM486.5,88.0h4.6v4.6h-4.6zM488.1,86.5h4.6v4.6h-4.6zM489.7,85.1h4.6v4.6h-4.6zM491.3,83.6h4.6v4.6h-4.6zM492.8,82.1h4.6v4.6h-4.6zM494.4,80.6h4.6v4.6h-4.6zM496.0,79.1h4.6v4.6h-4.6zM497.6,77.6h4.6v4.6h-4.6zM499.2,76.0h4.6v4.6h-4.6zM501.0,74.3h4.6v4.6h-4.6zM502.7,72.6h4.6v4.6h-4.6zM504.6,70.8h4.6v4.6h-4.6zM506.5,68.8h4.6v4.6h-4.6zM508.6,66.8h4.6v4.6h-4.6zM510.7,64.7h4.6v4.6h-4.6zM512.9,62.5h4.6v4.6h-4.6zM515.1,60.2h4.6v4.6h-4.6zM517.5,57.7h4.6v4.6h-4.6zM520.0,55.1h4.6v4.6h-4.6zM523.1,51.9h4.6v4.6h-4.6zM526.9,47.8h4.6v4.6h-4.6zM531.6,42.6h4.6v4.6h-4.6zM537.7,35.8h4.6v4.6h-4.6zM545.0,27.2h4.6v4.6h-4.6z" fill="none" stroke="#1fb3b3" stroke-width="0.8"/>
<path d="M81.5,289.8 L84.5,288.3 L87.5,286.8 L90.5,285.5 L93.5,284.3 L96.5,283.1 L99.5,282.0 L102.5,281.2 L105.5,280.4 L108.5,279.7 L111.5,279.0 L114.5,278.1 L117.5,277.2 L120.5,276.2 L123.5,275.2 L126.5,274.2 L129.5,273.1 L132.5,271.9 L135.5,270.7 L138.5,269.4 L141.5,268.1 L144.5,266.7 L147.5,265.4 L150.5,264.0 L153.5,262.5 L156.5,261.0 L159.5,259.6 L162.5,258.2 L165.5,256.9 L168.5,255.6 L171.5,254.3 L174.5,253.1 L177.5,251.9 L180.5,250.7 L183.5,249.5 L186.5,248.4 L189.5,247.3 L192.5,246.2 L195.5,245.1 L198.5,244.0 L201.5,242.9 L204.5,241.7 L207.5,240.6 L210.5,239.5 L213.5,238.4 L216.5,237.3 L219.5,236.1 L222.5,234.9 L225.5,233.7 L228.5,232.5 L231.5,231.3 L234.5,230.0 L237.5,228.8 L240.5,227.5 L243.5,226.3 L246.5,225.0 L249.5,223.8 L252.5,222.5 L255.5,221.2 L258.5,220.0 L261.5,218.7 L264.5,217.4 L267.5,216.1 L270.5,214.9 L273.5,213.6 L276.5,212.3 L279.5,211.0 L282.5,209.7 L285.5,208.4 L288.5,207.0 L291.5,205.7 L294.5,204.4 L297.5,203.0 L300.5,201.7 L303.5,200.3 L306.5,198.9 L309.5,197.6 L312.5,196.2 L315.5,194.8 L318.5,193.4 L321.5,192.0 L324.5,190.6 L327.5,189.2 L330.5,187.9 L333.5,186.4 L336.5,185.0 L339.5,183.6 L342.5,182.1 L345.5,180.7 L348.5,179.2 L351.5,177.7 L354.5,176.2 L357.5,174.7 L360.5,173.1 L363.5,171.6 L366.5,170.0 L369.5,168.4 L372.5,166.8 L375.5,165.2 L378.5,163.5 L381.5,161.8 L384.5,160.1 L387.5,158.4 L390.5,156.7 L393.5,154.9 L396.5,153.1 L399.5,151.3 L402.5,149.5 L405.5,147.6 L408.5,145.7 L411.5,143.8 L414.5,141.9 L417.5,139.9 L420.5,137.9 L423.5,135.9 L426.5,133.9 L429.5,131.8 L432.5,129.7 L435.5,127.6 L438.5,125.4 L441.5,123.2 L444.5,121.0 L447.5,118.7 L450.5,116.4 L453.5,114.1 L456.5,111.7 L459.5,109.3 L462.5,106.9 L465.5,104.4 L468.5,101.9 L471.5,99.4 L474.5,96.8 L477.5,94.2 L480.5,91.6 L483.5,88.9 L486.5,86.2 L489.5,83.4 L492.5,80.6 L495.5,77.8 L498.5,74.9 L501.5,71.9 L504.5,69.0 L507.5,66.0 L510.5,62.9 L513.5,59.8 L516.5,56.7 L519.5,53.5 L522.5,50.2 L525.5,47.0 L528.5,43.6 L531.5,40.3 L534.5,36.9 L537.5,33.4 L540.5,29.9 L543.5,26.3 L545.2,24.3" fill="none" stroke="#000" stroke-width="1.0" stroke-linejoin="round"/>
<path d="M81.5,304.2 L84.5,303.2 L87.5,302.0 L90.5,300.9 L93.5,299.6 L96.5,298.3 L99.5,296.9 L102.5,295.7 L105.5,294.6 L108.5,293.4 L111.5,292.2 L114.5,290.8 L117.5,289.4 L120.5,288.0 L123.5,286.6 L126.5,285.2 L129.5,283.9 L132.5,282.5 L135.5,281.1 L138.5,279.8 L141.5,278.4 L144.5,277.0 L147.5,275.7 L150.5,274.4 L153.5,273.0 L156.5,271.7 L159.5,270.4 L162.5,269.0 L165.5,267.7 L168.5,266.4 L171.5,265.1 L174.5,263.7 L177.5,262.4 L180.5,261.1 L183.5,259.8 L186.5,258.5 L189.5,257.2 L192.5,255.9 L195.5,254.6 L198.5,253.3 L201.5,252.0 L204.5,250.6 L207.5,249.3 L210.5,248.0 L213.5,246.7 L216.5,245.4 L219.5,244.1 L222.5,242.8 L225.5,241.5 L228.5,240.2 L231.5,238.8 L234.5,237.5 L237.5,236.2 L240.5,234.9 L243.5,233.6 L246.5,232.2 L249.5,230.9 L252.5,229.4 L255.5,228.0 L258.5,226.5 L261.5,225.0 L264.5,223.5 L267.5,222.0 L270.5,220.5 L273.5,219.1 L276.5,217.7 L279.5,216.3 L282.5,214.9 L285.5,213.5 L288.5,212.1 L291.5,210.7 L294.5,209.3 L297.5,207.9 L300.5,206.5 L303.5,205.0 L306.5,203.6 L309.5,202.2 L312.5,200.7 L315.5,199.2 L318.5,197.7 L321.5,196.3 L324.5,194.8 L327.5,193.2 L330.5,191.7 L333.5,190.2 L336.5,188.7 L339.5,187.1 L342.5,185.6 L345.5,184.0 L348.5,182.4 L351.5,180.8 L354.5,179.2 L357.5,177.6 L360.5,175.9 L363.5,174.3 L366.5,172.6 L369.5,171.0 L372.5,169.3 L375.5,167.6 L378.5,165.9 L381.5,164.1 L384.5,162.4 L387.5,160.6 L390.5,158.9 L393.5,157.1 L396.5,155.3 L399.5,153.5 L402.5,151.6 L405.5,149.8 L408.5,147.9 L411.5,146.0 L414.5,144.1 L417.5,142.2 L420.5,140.2 L423.5,138.2 L426.5,136.2 L429.5,134.2 L432.5,132.1 L435.5,129.9 L438.5,127.8 L441.5,125.6 L444.5,123.3 L447.5,121.0 L450.5,118.7 L453.5,116.3 L456.5,113.8 L459.5,111.3 L462.5,108.8 L465.5,106.2 L468.5,103.5 L471.5,100.7 L474.5,97.9 L477.5,95.0 L480.5,92.1 L483.5,89.1 L485.5,87.0" fill="none" stroke="#000" stroke-width="1.0" stroke-linejoin="round"/>
<path d="M103.2,339.9 L106.2,338.0 L109.2,336.1 L112.2,334.2 L115.2,332.4 L118.2,330.5 L121.2,328.7 L124.2,326.8 L127.2,325.0 L130.2,323.2 L133.2,321.4 L136.2,319.6 L139.2,317.8 L142.2,316.0 L145.2,314.3 L148.2,312.5 L151.2,310.7 L154.2,309.0 L157.2,307.3 L160.2,305.5 L163.2,303.8 L166.2,302.0 L169.2,300.3 L172.2,298.6 L175.2,296.9 L178.2,295.2 L181.2,293.5 L184.2,291.8 L187.2,290.1 L190.2,288.4 L193.2,286.7 L196.2,285.0 L199.2,283.3 L202.2,281.7 L205.2,280.1 L208.2,278.6 L211.2,277.0 L214.2,275.5 L217.2,273.9 L220.2,272.3 L223.2,270.8 L226.2,269.2 L229.2,267.5 L232.2,265.8 L235.2,264.1 L238.2,262.4 L241.2,260.7 L244.2,259.0 L247.2,257.4 L250.2,255.7 L253.2,254.0 L256.2,252.3 L259.2,250.6 L262.2,248.8 L265.2,247.1 L268.2,245.4 L271.2,243.7 L274.2,242.0 L277.2,240.2 L280.2,238.5 L283.2,236.7 L286.2,235.0 L289.2,233.2 L292.2,231.5 L295.2,229.7 L298.2,227.8 L301.2,225.9 L304.2,224.1 L307.2,222.2 L310.2,220.3 L313.2,218.4 L316.2,216.4 L319.2,214.5 L322.2,212.6 L325.2,210.6 L328.2,208.7 L331.2,206.7 L334.2,204.9 L337.2,202.9 L340.2,201.0 L343.2,199.1 L346.2,197.2 L349.2,195.2 L352.2,193.2 L355.2,191.3 L358.2,189.3 L361.2,187.3 L364.2,185.3 L367.2,183.2 L370.2,181.2 L373.2,179.1 L376.2,177.0 L379.2,174.9 L382.2,172.8 L385.2,170.7 L388.2,168.6 L391.2,166.4 L394.2,164.2 L397.2,162.0 L400.2,159.8 L403.2,157.6 L406.2,155.4 L409.2,153.1 L412.2,150.8 L415.2,148.5 L418.2,146.2 L421.2,143.8 L424.2,141.5 L427.2,139.1 L430.2,136.7 L433.2,134.3 L436.2,131.8 L439.2,129.3 L442.2,126.8 L445.2,124.3 L448.2,121.8 L451.2,119.2 L454.2,116.7 L457.2,114.0 L460.2,111.4 L463.2,108.8 L466.2,106.1 L469.2,103.4 L472.2,100.7 L475.2,97.9 L478.2,95.1 L481.2,92.3 L484.2,89.5 L485.5,88.2" fill="none" stroke="#000" stroke-width="1.0" stroke-linejoin="round"/>
<rect x="82.0" y="25.5" width="467.5" height="314.0" fill="none" stroke="#000" stroke-width="1.15"/>
<path d="M187.5,339.5v-5M187.5,25.5v5M298.8,339.5v-5M298.8,25.5v5M410.2,339.5v-5M410.2,25.5v5M521.5,339.5v-5M521.5,25.5v5M82.0,79.4h5M549.5,79.4h-5M82.0,169.1h5M549.5,169.1h-5M82.0,258.8h5M549.5,258.8h-5" fill="none" stroke="#000" stroke-width="0.9"/>
<path d="M300.3,55.6H355.6M300.3,52.800000000000004v5.6M355.6,52.800000000000004v5.6" fill="none" stroke="#1fb3b3" stroke-width="0.6"/>
<path d="M325.4,53.0h5.2v5.2h-5.2z" fill="none" stroke="#1fb3b3" stroke-width="0.8"/>
<path d="M300.3,81.0H355.6M300.3,78.2v5.6M355.6,78.2v5.6" fill="none" stroke="#0000ff" stroke-width="0.6"/>
<path d="M325.2,81.0h5.6M328.0,78.2v5.6M325.2,78.2l5.6,5.6M325.2,83.8l5.6,-5.6" fill="none" stroke="#0000ff" stroke-width="0.8"/>
<path d="M300.3,106.5H355.6M300.3,103.7v5.6M355.6,103.7v5.6" fill="none" stroke="#00b400" stroke-width="0.6"/>
<path d="M325.2,103.7l5.6,5.6M325.2,109.3l5.6,-5.6" fill="none" stroke="#00b400" stroke-width="0.8"/>
<path d="M300.3,131.8H355.6M300.3,129.0v5.6M355.6,129.0v5.6" fill="none" stroke="#ff0000" stroke-width="0.6"/>
<path d="M325.7,131.8h4.6M328.0,129.5v4.6" fill="none" stroke="#ff0000" stroke-width="0.8"/>
<g font-family="'Liberation Serif', serif" fill="#000" stroke="#fff" stroke-width="0.22" opacity="0.995">
<text transform="translate(191.1,357) scale(1.05,1)" font-size="23.5" text-anchor="middle">0.2</text>
<text transform="translate(302.40000000000003,357) scale(1.05,1)" font-size="23.5" text-anchor="middle">0.4</text>
<text transform="translate(413.8,357) scale(1.05,1)" font-size="23.5" text-anchor="middle">0.6</text>
<text transform="translate(525.1,357) scale(1.05,1)" font-size="23.5" text-anchor="middle">0.8</text>
<text transform="translate(75.6,86.7) scale(1.05,1)" font-size="23.5" text-anchor="end">0.8</text>
<text transform="translate(75.6,176.4) scale(1.05,1)" font-size="23.5" text-anchor="end">0.7</text>
<text transform="translate(75.6,266.1) scale(1.05,1)" font-size="23.5" text-anchor="end">0.6</text>
<text transform="translate(106.8,62.8) scale(1.05,1)" font-size="23.5" font-style="italic" text-anchor="start">t</text>
<text transform="translate(114.7,68.0) scale(1.1,1)" font-size="17.5" text-anchor="start">w</text>
<text x="134.5" y="62.8" font-size="23.5" text-anchor="start">=</text>
<text transform="translate(154.7,62.8) scale(1.04,1)" font-size="23.5" text-anchor="start">2</text>
<text transform="translate(167.3,53.0) scale(1.03,1)" font-size="18.5" text-anchor="start">35</text>
<text x="200.0" y="62.8" font-size="23.5" text-anchor="start">(</text>
<text x="207.8" y="62.8" font-size="23.5" font-style="italic" text-anchor="start">L</text>
<text x="226.3" y="62.8" font-size="23.5" text-anchor="start">=</text>
<text transform="translate(246.4,62.8) scale(1.03,1)" font-size="23.5" text-anchor="start">33</text>
<text x="270.6" y="62.8" font-size="23.5" text-anchor="start">*</text>
<text x="280.6" y="62.8" font-size="23.5" text-anchor="start">)</text>
<text transform="translate(103.8,87.8) scale(1.05,1)" font-size="23.5" font-style="italic" text-anchor="start">t</text>
<text transform="translate(111.7,93.0) scale(1.1,1)" font-size="17.5" text-anchor="start">w</text>
<text x="131.5" y="87.8" font-size="23.5" text-anchor="start">=</text>
<text transform="translate(151.7,87.8) scale(1.04,1)" font-size="23.5" text-anchor="start">2</text>
<text transform="translate(164.3,78.0) scale(1.03,1)" font-size="18.5" text-anchor="start">23</text>
<text x="197.0" y="87.8" font-size="23.5" text-anchor="start">(</text>
<text x="204.8" y="87.8" font-size="23.5" font-style="italic" text-anchor="start">L</text>
<text x="223.3" y="87.8" font-size="23.5" text-anchor="start">=</text>
<text transform="translate(243.4,87.8) scale(1.03,1)" font-size="23.5" text-anchor="start">20</text>
<text x="280.6" y="87.8" font-size="23.5" text-anchor="start">)</text>
<text transform="translate(103.8,112.8) scale(1.05,1)" font-size="23.5" font-style="italic" text-anchor="start">t</text>
<text transform="translate(111.7,118.0) scale(1.1,1)" font-size="17.5" text-anchor="start">w</text>
<text x="131.5" y="112.8" font-size="23.5" text-anchor="start">=</text>
<text transform="translate(151.7,112.8) scale(1.04,1)" font-size="23.5" text-anchor="start">2</text>
<text transform="translate(164.3,103.0) scale(1.03,1)" font-size="18.5" text-anchor="start">19</text>
<text x="197.0" y="112.8" font-size="23.5" text-anchor="start">(</text>
<text x="204.8" y="112.8" font-size="23.5" font-style="italic" text-anchor="start">L</text>
<text x="223.3" y="112.8" font-size="23.5" text-anchor="start">=</text>
<text transform="translate(243.4,112.8) scale(1.03,1)" font-size="23.5" text-anchor="start">16</text>
<text x="280.6" y="112.8" font-size="23.5" text-anchor="start">)</text>
<text transform="translate(103.8,137.8) scale(1.05,1)" font-size="23.5" font-style="italic" text-anchor="start">t</text>
<text transform="translate(111.7,143.0) scale(1.1,1)" font-size="17.5" text-anchor="start">w</text>
<text x="131.5" y="137.8" font-size="23.5" text-anchor="start">=</text>
<text transform="translate(151.7,137.8) scale(1.04,1)" font-size="23.5" text-anchor="start">2</text>
<text transform="translate(164.3,128.0) scale(1.03,1)" font-size="18.5" text-anchor="start">12</text>
<text x="197.0" y="137.8" font-size="23.5" text-anchor="start">(</text>
<text x="204.8" y="137.8" font-size="23.5" font-style="italic" text-anchor="start">L</text>
<text x="223.3" y="137.8" font-size="23.5" text-anchor="start">=</text>
<text transform="translate(243.4,137.8) scale(1.03,1)" font-size="23.5" text-anchor="start">10</text>
<text x="280.6" y="137.8" font-size="23.5" text-anchor="start">)</text>
<text transform="translate(278.0,378) scale(1.04,1)" font-size="23.5" font-style="italic" text-anchor="start">C</text>
<text x="293.6" y="378" font-size="23.5" text-anchor="start">(</text>
<text transform="translate(301.0,378) scale(1.05,1)" font-size="23.5" font-style="italic" text-anchor="start">t</text>
<text x="308.5" y="378" font-size="23.5" text-anchor="start">,</text>
<text transform="translate(313.6,378) scale(1.05,1)" font-size="23.5" font-style="italic" text-anchor="start">t</text>
<text transform="translate(321.5,383.3) scale(1.1,1)" font-size="17.5" text-anchor="start">w</text>
<text x="335.2" y="378" font-size="23.5" text-anchor="start">)</text>
<text transform="translate(343.4,369) scale(1.04,1)" font-size="18.5" text-anchor="start">2</text>
<g transform="translate(38.2,251) rotate(-90)">
<text transform="translate(0.2,0) scale(1.04,1)" font-size="23.5" font-style="italic" text-anchor="start">C</text>
<text x="14.0" y="-2.5" font-size="22" font-style="italic" text-anchor="start">′</text>
<text transform="translate(17.3,7.3) scale(1.03,1)" font-size="16.6" text-anchor="start">2+2</text>
<text x="43.0" y="0" font-size="23.5" font-style="italic" text-anchor="start">(</text>
<text transform="translate(51.3,0) scale(1.15,1)" font-size="23.5" font-style="italic" text-anchor="start">r</text>
<text transform="translate(63.3,0) scale(0.68,1)" font-size="23.5" text-anchor="start">=</text>
<text x="73.2" y="0" font-size="23.5" text-anchor="start">1</text>
<text x="85.3" y="0" font-size="23.5" text-anchor="start">,</text>
<text transform="translate(90.3,0) scale(1.08,1)" font-size="23.5" font-style="italic" text-anchor="start">t</text>
<text x="100.5" y="0" font-size="23.5" text-anchor="start">,</text>
<text transform="translate(106.0,0) scale(1.08,1)" font-size="23.5" font-style="italic" text-anchor="start">t</text>
<text transform="translate(116.0,6.3) scale(0.8,1)" font-size="20.0" font-style="italic" text-anchor="start">w</text>
<text x="131.3" y="0" font-size="23.5" font-style="italic" text-anchor="start">)</text>
</g>
</g>
</svg>
</body></html>
